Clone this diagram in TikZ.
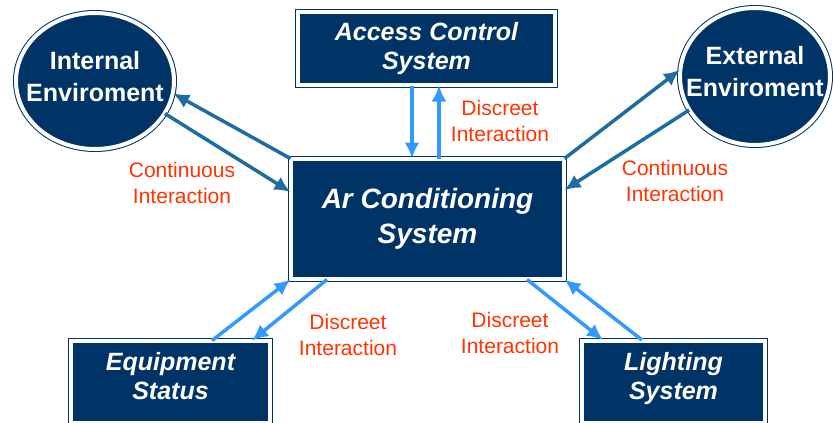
\documentclass[tikz,border=0pt]{standalone}
\usepackage{fontspec}
\setmainfont{Liberation Sans}
\usetikzlibrary{arrows.meta,shapes.geometric,calc}
\definecolor{azulosc}{RGB}{0,51,102}
\definecolor{azulmed}{RGB}{30,108,160}
\definecolor{azulcla}{RGB}{51,153,255}
\definecolor{rojo}{RGB}{255,51,0}
\tikzstyle{sistema}=[draw=azulosc, double=white, double distance=4pt, line width=1pt,
  fill=azulosc, text=white, align=center, inner sep=0pt,
  font=\fontsize{25}{29}\selectfont\bfseries\itshape]
\tikzstyle{principal} = [sistema, minimum width=273pt, minimum height=120pt,
  font=\fontsize{28}{35}\selectfont\bfseries\itshape]
\tikzstyle{entorno} = [sistema, ellipse, inner xsep=-18pt,
  font=\fontsize{25}{32}\selectfont\bfseries]
\tikzstyle{continua} = [draw, line width=3.5pt, color=azulmed, -{Latex[length=16pt,width=15pt]}]
\tikzstyle{discreta} = [continua, color=azulcla]
\tikzstyle{rotulo}=[text=rojo, align=center, font=\fontsize{21}{26}\selectfont]
\begin{document}
\begin{tikzpicture}[x=1pt,y=-1pt]
  \useasboundingbox (0,0) rectangle (833,423);
  \clip (0,0) rectangle (833,423);

  \path (427.5,219) node (ac) [principal] {Ar Conditioning\\System};
  \path (426.5,48.5) node (acc) [sistema, minimum width=257pt, minimum height=73pt] {Access Control\\System};
  \path (95,81) node (ei) [entorno, minimum width=158pt, minimum height=136pt] {Internal\\Enviroment\\[-22pt]};
  \path (755,76.5) node (ee) [entorno, minimum width=150pt, minimum height=137pt] {External\\Enviroment\\[-22pt]};
  \path (170.5,382) node (eq) [sistema, minimum width=199pt, minimum height=82pt] {Equipment\\Status\\[-17pt]};
  \path (673.5,381.5) node (lt) [sistema, minimum width=183pt, minimum height=82pt] {Lighting\\System\\[-17pt]};

  \path [continua] (ac.north west) -- (ei.-9);
  \path [continua] (ei.-25) -- ($(ac.west)+(0,-27)$);
  \path [continua] (ac.north east) -- (ee.175);
  \path [continua] (ee.207) -- ($(ac.east)+(0,-29)$);
  \path [discreta] ($(acc.south)+(-14.5,0)$) -- ($(ac.north)+(-15.5,0)$);
  \path [discreta] ($(ac.north)+(11.5,0)$) -- ($(acc.south)+(12.5,0)$);
  \path [discreta] ($(eq.north)+(41.5,0)$) -- (ac.south west);
  \path [discreta] ($(ac.south)+(-100.5,0)$) -- ($(eq.north)+(81.5,0)$);
  \path [discreta] ($(ac.south)+(99.5,0)$) -- ($(lt.north)+(-70.5,0)$);
  \path [discreta] ($(lt.north)+(-31.5,0)$) -- (ac.south east);

  \path (182,183) node (r1) [rotulo] {Continuous\\Interaction};
  \path (500,121) node (r2) [rotulo] {Discreet\\Interaction};
  \path (675,181) node (r3) [rotulo] {Continuous\\Interaction};
  \path (348,335) node (r4) [rotulo] {Discreet\\Interaction};
  \path (510,333) node (r5) [rotulo] {Discreet\\Interaction};
\end{tikzpicture}
\end{document}
